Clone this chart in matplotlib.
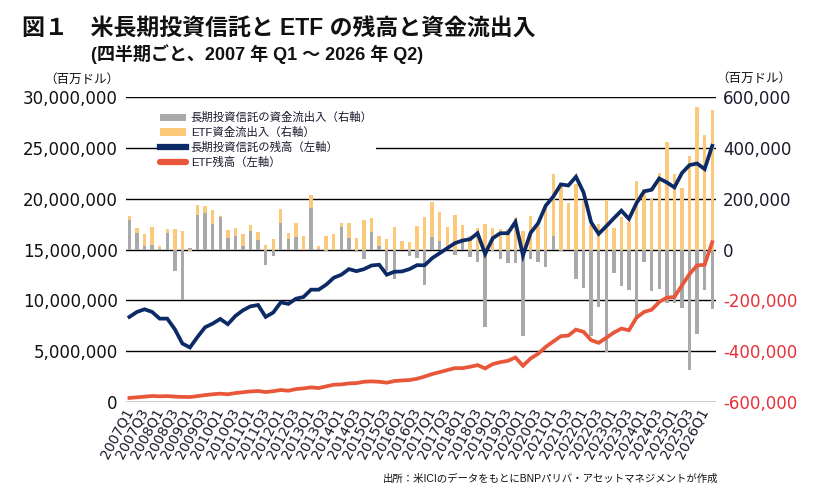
import matplotlib
matplotlib.use("Agg")
import matplotlib.pyplot as plt
from matplotlib.patches import Patch
from matplotlib.lines import Line2D
import numpy as np

plt.rcParams['font.family'] = ['Liberation Sans', 'Noto Sans CJK JP', 'DejaVu Sans']

# ---------------- data ----------------
years = list(range(2007, 2027))
quarters = [f"{y}Q{q}" for y in years for q in (1, 2, 3, 4)][:78]   # 2007Q1 .. 2026Q2
tick_labels = quarters[::2]

# 長期投資信託の残高 (百万ドル, left axis)
mf_aum = [8.37, 8.86, 9.12, 8.86, 8.20, 8.20, 7.16, 5.75, 5.36, 6.40,
          7.35, 7.71, 8.17, 7.65, 8.46, 9.02, 9.41, 9.54, 8.37, 8.80,
          9.80, 9.65, 10.16, 10.33, 11.05, 11.05, 11.54, 12.22, 12.52, 13.07,
          12.87, 13.07, 13.43, 13.50, 12.52, 12.81, 12.84, 13.07, 13.46, 13.45,
          14.15, 14.64, 15.13, 15.62, 15.88, 16.01, 16.60, 14.57, 16.11, 16.60,
          16.60, 17.71, 14.41, 16.63, 17.58, 19.31, 20.20, 21.40, 21.30, 22.16,
          20.62, 17.68, 16.54, 17.29, 18.07, 18.82, 18.01, 19.57, 20.72, 20.88,
          21.99, 21.60, 21.11, 22.52, 23.30, 23.46, 22.91, 25.20]
mf_aum = [v * 1e6 for v in mf_aum]

# ETF残高 (百万ドル, left axis)
etf_aum = [0.40, 0.46, 0.52, 0.59, 0.56, 0.58, 0.53, 0.50, 0.49, 0.58,
           0.68, 0.76, 0.82, 0.76, 0.88, 0.96, 1.04, 1.08, 0.98, 1.06,
           1.18, 1.11, 1.27, 1.34, 1.44, 1.37, 1.54, 1.70, 1.73, 1.83,
           1.86, 1.99, 2.03, 1.99, 1.90, 2.06, 2.12, 2.16, 2.29, 2.50,
           2.75, 2.94, 3.14, 3.33, 3.33, 3.46, 3.63, 3.30, 3.73, 3.92,
           4.05, 4.38, 3.56, 4.28, 4.74, 5.42, 5.95, 6.47, 6.54, 7.12,
           6.90, 6.08, 5.82, 6.31, 6.83, 7.22, 7.06, 8.30, 8.86, 9.08,
           9.84, 10.26, 10.33, 11.47, 12.58, 13.43, 13.50, 15.72]
etf_aum = [v * 1e6 for v in etf_aum]

# 長期投資信託の資金流出入 (百万ドル, right axis)
mf_flow = [118, 65, 13, 17, 2, 65, -84, -199, 5, 136,
           144, 101, 127, 44, 52, 13, 73, 38, -61, -27,
           105, 40, 48, -3, 162, 3, -7, 0, 88, 46,
           -8, -37, 68, 13, -85, -116, 0, -24, -34, -140,
           48, 34, 5, -22, 30, -29, -51, -306, -5, -39,
           -52, -52, -342, -37, -48, -68, 52, -6, 0, -118,
           -151, -341, -228, -402, -92, -145, -158, -266, -49, -163,
           -154, -212, -209, -230, -474, -333, -158, -233]
mf_flow = [v * 1e3 for v in mf_flow]

# ETF資金流出入 (百万ドル, right axis)
etf_flow = [15, 20, 48, 73, 10, 16, 80, 71, -4, 40,
            27, 55, 5, 31, 34, 48, 24, 29, 18, 43,
            53, 26, 55, 55, 54, 12, 52, 60, 18, 60,
            47, 118, 56, 42, 43, 88, 34, 29, 92, 127,
            138, 112, 85, 135, 67, 52, 86, 102, 85, 82,
            82, 123, 72, 131, 94, 167, 247, 257, 183, 259,
            191, 95, 99, 193, 86, 129, 109, 270, 237, 199,
            300, 422, 299, 243, 366, 561, 451, 547]
etf_flow = [v * 1e3 for v in etf_flow]

left_ticks = [0, 5e6, 10e6, 15e6, 20e6, 25e6, 30e6]
right_ticks = [-600000, -400000, -200000, 0, 200000, 400000, 600000]

# ---------------- style ----------------
C_GRAY = '#a9a9a9'
C_ORANGE = '#fcc97b'
C_NAVY = '#0c2b66'
C_RED = '#e9573a'
C_NEG = '#e8303a'
C_TXT = '#1a1a2e'

fig = plt.figure(figsize=(8.24, 4.99), dpi=100)
ax = fig.add_axes([126/824, 1 - 402/499, 590/824, 305/499])
ax2 = ax.twinx()

x = np.arange(len(quarters))
w = 0.45
mf = np.array(mf_flow)
ef = np.array(etf_flow)
etf_bottom = np.where(ef >= 0, np.maximum(mf, 0), np.minimum(mf, 0))

ax.bar(x, mf, width=w, color=C_GRAY, zorder=2, linewidth=0)
ax.bar(x, ef, width=w, bottom=etf_bottom, color=C_ORANGE, zorder=2, linewidth=0)
for t in right_ticks:
    ax.axhline(t, color='black', lw=1.0, zorder=1)

ax2.plot(x, etf_aum, color=C_RED, lw=2.7, zorder=3, solid_joinstyle='miter')
ax2.plot(x, mf_aum, color=C_NAVY, lw=2.7, zorder=4, solid_joinstyle='miter')

ax.set_xlim(-0.45, 77.5)
ax.set_ylim(-600000, 600000)
ax2.set_ylim(0, 30e6)

for a in (ax, ax2):
    for s in a.spines.values():
        s.set_visible(False)

# right axis (flows)
ax.yaxis.set_ticks_position('right')
ax.set_yticks(right_ticks)
ax.set_yticklabels([f"{t:,}" for t in right_ticks], family='DejaVu Sans', fontsize=12)
for lab, t in zip(ax.get_yticklabels(), right_ticks):
    lab.set_color(C_NEG if t < 0 else C_TXT)
ax.tick_params(axis='y', length=0, pad=5)

# left axis (AUM)
ax2.yaxis.set_ticks_position('left')
ax2.set_yticks(left_ticks)
ax2.set_yticklabels([f"{int(t):,}" for t in left_ticks], family='DejaVu Sans', fontsize=12, color='#111111')
ax2.tick_params(axis='y', length=0, pad=6)

# x axis
ax.set_xticks(x[::2])
ax.set_xticklabels(tick_labels, rotation=62, ha='right', va='center',
                   rotation_mode='anchor', family='DejaVu Sans', fontsize=10, color=C_TXT)
ax.tick_params(axis='x', length=0, pad=5)

# units
fig.text(119/824, 1 - 80/499, '（百万ドル）', ha='right', va='center', fontsize=9, color='#111111')
fig.text(716/824, 1 - 79/499, '（百万ドル）', ha='left', va='center', fontsize=9, color='#111111')

# titles
fig.text(22/824, 1 - 29/499, '図１　米長期投資信託と ETF の残高と資金流出入',
         ha='left', va='center', fontsize=16.5, fontweight='bold', color='#111111')
fig.text(91/824, 1 - 54/499, '(四半期ごと、2007 年 Q1 ～ 2026 年 Q2)',
         ha='left', va='center', fontsize=13, fontweight='bold', color='#111111')

# source
fig.text(718/824, 1 - 479/499, '出所：米ICIのデータをもとにBNPパリバ・アセットマネジメントが作成',
         ha='right', va='center', fontsize=7.5, color='#111111')

handles = [Patch(facecolor=C_GRAY, edgecolor='none'),
           Patch(facecolor=C_ORANGE, edgecolor='none'),
           Line2D([0], [0], color=C_NAVY, lw=4.5),
           Line2D([0], [0], color=C_RED, lw=4.5, solid_capstyle='round')]
labels = ['長期投資信託の資金流出入（右軸）', 'ETF資金流出入（右軸）',
          '長期投資信託の残高（左軸）', 'ETF残高（左軸）']
leg = ax2.legend(handles, labels, loc='upper left', bbox_to_anchor=(0.052, 0.962),
                 fontsize=8.2, frameon=True, facecolor='white', edgecolor='none',
                 framealpha=1, fancybox=False, handlelength=2.3, handleheight=0.6,
                 handletextpad=0.4, labelspacing=0.33, borderpad=0.3, borderaxespad=0)
leg.set_zorder(10)
for t in leg.get_texts():
    t.set_color(C_TXT)

fig.savefig('out.png', dpi=100)
